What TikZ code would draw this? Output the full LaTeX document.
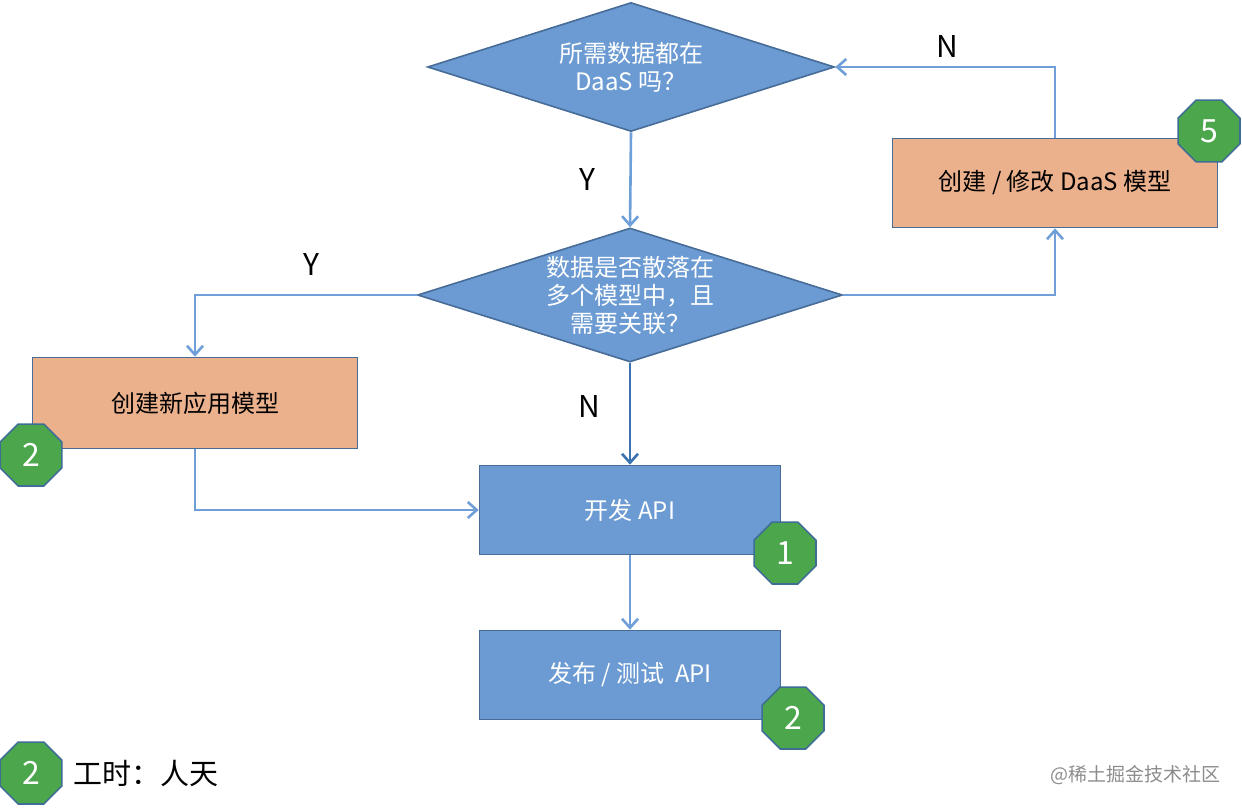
\documentclass[tikz,border=0pt]{standalone}
\usepackage{fontspec}
\setmainfont{Noto Sans CJK SC}
\usepackage{tikz}
\usetikzlibrary{arrows.meta}
\usetikzlibrary{shapes.geometric}
\usetikzlibrary{positioning}
\definecolor{boxblue}{RGB}{107,155,210}
\definecolor{edgeblue}{RGB}{72,108,152}
\definecolor{boxorange}{RGB}{235,176,140}
\definecolor{lineblue}{RGB}{111,159,216}
\definecolor{linedark}{RGB}{58,114,176}
\definecolor{badgegreen}{RGB}{76,166,76}
\definecolor{badgeedge}{RGB}{62,110,150}

\begin{document}
\begin{tikzpicture}[x=1pt, y=-1pt]
	\tikzstyle{decision}=[diamond, draw=edgeblue, line width=1.6pt, fill=boxblue,
	                        inner sep=0pt];
	\tikzstyle{qtext}=[text=white, align=center, font=\fontsize{24}{28}\selectfont];
	\tikzstyle{task}=[rectangle, draw=edgeblue, line width=1.6pt, fill=boxblue,
	                        text=white, minimum width=301pt, minimum height=89pt,
	                        font=\fontsize{24}{28}\selectfont];
	\tikzstyle{model}=[task, fill=boxorange, text=black, minimum width=325pt];
	\tikzstyle{badge}=[regular polygon, regular polygon sides=8, draw=badgeedge,
	                        line width=1.6pt, fill=badgegreen, text=white, inner sep=0pt,
	                        minimum size=67pt, font=\fontsize{32}{32}\selectfont];
	\tikzstyle{flow}=[draw=lineblue, line width=2.6pt,
	                        -{Straight Barb[length=9pt, width=16pt, line width=2.6pt]}];
	\tikzstyle{yn}=[font=\fontsize{30}{30}\selectfont];
	\useasboundingbox (0,0) rectangle (1242,808);

	\node[decision, minimum width=407pt, minimum height=129pt,
	      label={[qtext]center:{所需数据都在\\DaaS 吗？}}] (d1) at (631,67) {};
	\node[decision, minimum width=425pt, minimum height=134pt,
	      label={[qtext]center:{数据是否散落在\\多个模型中，且\\需要关联？}}] (d2) at (630,295) {};
	\node[model] (daas) at (1055,183) {创建 / 修改 DaaS 模型};
	\node[model, minimum height=91pt] (newapp) at (195,403) {创建新应用模型};
	\node[task] (dev) at (630,510) {开发 API};
	\node[task] (pub) at (630,675) {发布 / 测试~ API};

	\draw[flow] (d1.south) -- (d2.north);
	\draw[flow] (d2.west) -| (newapp.north);
	\draw[flow] (d2.east) -| (daas.south);
	\draw[flow] (daas.north) |- (d1.east);
	\draw[flow, draw=linedark] (d2.south) -- (dev.north);
	\draw[flow] (newapp.south) |- (dev.west);
	\draw[flow] (dev.south) -- (pub.north);

	\node[yn] (y1) at (587,180) {Y};
	\node[yn] (y2) at (311,265) {Y};
	\node[yn] (n1) at (947,47) {N};
	\node[yn] (n2) at (589,407) {N};

	\node[badge] (b5) at (1209,131) {5};
	\node[badge] (b2a) at (31,455) {2};
	\node[badge] (b1) at (785,553) {1};
	\node[badge] (b2b) at (793,718) {2};

	% legend
	\node[badge] (leg) at (31,773) {2};
	\node[right=11pt of leg, inner sep=0pt, font=\fontsize{29}{29}\selectfont] (legtext) {工时：人天};
	\node[anchor=east, text=black!45, font=\fontsize{19}{19}\selectfont] (mark) at (1224,775) {@稀土掘金技术社区};
\end{tikzpicture}
\end{document}
